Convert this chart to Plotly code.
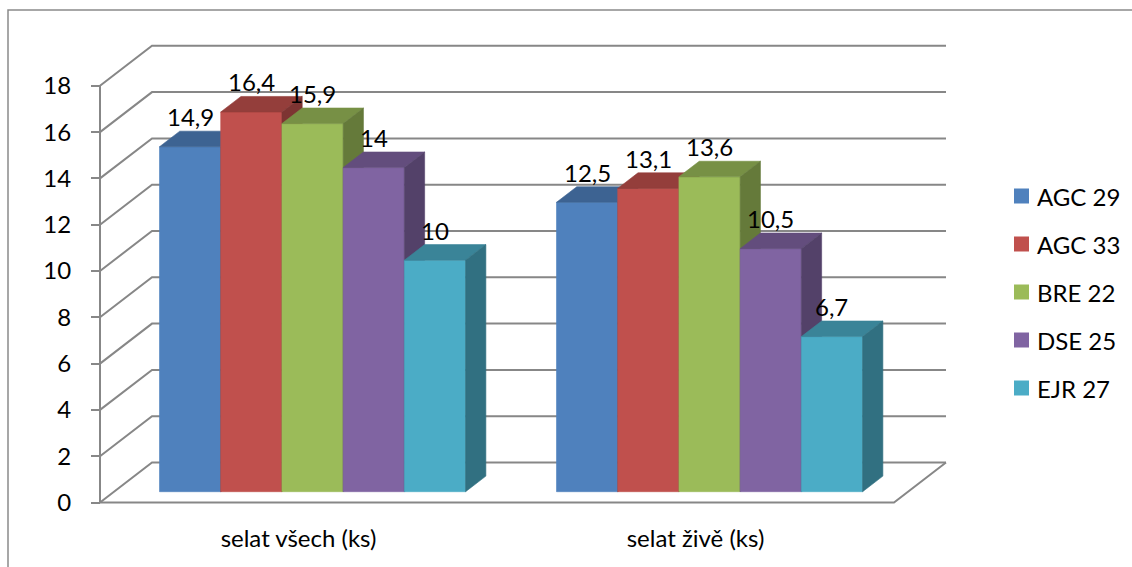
import plotly.graph_objects as go

# ---- data -------------------------------------------------------------
categories = ["selat všech (ks)", "selat živě (ks)"]
series_names = ["AGC 29", "AGC 33", "BRE 22", "DSE 25", "EJR 27"]
agc29 = [14.9, 12.5]
agc33 = [16.4, 13.1]
bre22 = [15.9, 13.6]
dse25 = [14.0, 10.5]
ejr27 = [10.0, 6.7]
y_ticks = [0, 2, 4, 6, 8, 10, 12, 14, 16, 18]

series_values = [agc29, agc33, bre22, dse25, ejr27]
front_colors = ["#4F81BD", "#C0504D", "#9BBB59", "#8064A2", "#4BACC6"]

# ---- layout / projection constants ------------------------------------
W, H = 1132, 567
M_L, M_R, M_T, M_B = 40, 160, 20, 40
PX_PER_CAT = 397.0      # horizontal pixels per category
PX_PER_UNIT = 23.15     # vertical pixels per value unit
AXIS_X_PX = 100.0       # front value axis position
FLOOR_Y_PX = 502.5      # front floor line position

PLOT_W = W - M_L - M_R
PLOT_H = H - M_T - M_B
x_lo = -0.5 - (AXIS_X_PX - M_L) / PX_PER_CAT
x_hi = x_lo + PLOT_W / PX_PER_CAT
y_lo = -(H - M_B - FLOOR_Y_PX) / PX_PER_UNIT
y_hi = y_lo + PLOT_H / PX_PER_UNIT

# oblique depth vector of the full wall depth, in data units
DEPTH_DX = 52.0 / PX_PER_CAT
DEPTH_DY = 40.0 / PX_PER_UNIT
BAR_D0, BAR_D1 = 0.27, 0.66   # bar front / back depth fractions
BAR_W = 0.1542                # bar width in category units
N_SER = len(series_names)

GRID = "#878787"
FONT = "Lato"
FS = 24


def proj(x, v, d):
    return x + d * DEPTH_DX, v + d * DEPTH_DY


def shade(hex_color, k):
    r, g, b = (int(hex_color[i:i + 2], 16) for i in (1, 3, 5))
    return "rgb({},{},{})".format(round(r * k), round(g * k), round(b * k))


def px_to_paper_x(px):
    return (px - M_L) / PLOT_W


def px_to_paper_y(py):
    return 1 - (py - M_T) / PLOT_H


fig = go.Figure()

# ---- walls: gridlines on side + back wall, floor, front axis -----------
gx, gy = [], []
x_left, x_right = -0.5, len(categories) - 0.5
for v in y_ticks:
    for (x, d) in [(x_left, 0), (x_left, 1), (x_right, 1)]:
        px, py = proj(x, v, d)
        gx.append(px)
        gy.append(py)
    gx.append(None)
    gy.append(None)
for (x, v, d) in [(x_left, 0, 0), (x_right, 0, 0), (x_right, 0, 1)]:
    px, py = proj(x, v, d)
    gx.append(px)
    gy.append(py)
gx.append(None)
gy.append(None)
gx += [x_left, x_left]
gy += [0, max(y_ticks)]
fig.add_trace(go.Scatter(x=gx, y=gy, mode="lines",
                         line=dict(color=GRID, width=2),
                         hoverinfo="skip", showlegend=False))

# ---- 3D bars ----------------------------------------------------------
annotations = []
for g in range(len(categories)):
    start = g - BAR_W * N_SER / 2
    for i in range(N_SER):
        v = series_values[i][g]
        col = front_colors[i]
        x0 = start + i * BAR_W
        x1 = x0 + BAR_W
        faces = [
            ([(x0, 0, BAR_D0), (x1, 0, BAR_D0), (x1, v, BAR_D0), (x0, v, BAR_D0)], col),
            ([(x0, v, BAR_D0), (x1, v, BAR_D0), (x1, v, BAR_D1), (x0, v, BAR_D1)], shade(col, 0.77)),
            ([(x1, 0, BAR_D0), (x1, 0, BAR_D1), (x1, v, BAR_D1), (x1, v, BAR_D0)], shade(col, 0.65)),
        ]
        for pts, fc in faces:
            xs, ys = zip(*[proj(*p) for p in pts])
            fig.add_trace(go.Scatter(
                x=list(xs) + [xs[0]], y=list(ys) + [ys[0]],
                mode="lines", fill="toself", fillcolor=fc,
                line=dict(color=fc, width=0.6),
                hoverinfo="skip", showlegend=False))
        lx, _ = proj((x0 + x1) / 2, v, BAR_D0)
        _, ly = proj(0, v, BAR_D1)
        annotations.append(dict(
            x=lx, y=ly, xref="x", yref="y", showarrow=False,
            text="{:g}".format(v).replace(".", ","),
            xanchor="center", yanchor="bottom", yshift=-2,
            font=dict(family=FONT, size=FS, color="black")))

# ---- legend -----------------------------------------------------------
shapes = []
LEG_SQ_X, LEG_TXT_X, LEG_Y0, LEG_STEP, LEG_SQ = 1014, 1035, 196, 48, 15
for i, name in enumerate(series_names):
    cy = LEG_Y0 + i * LEG_STEP
    shapes.append(dict(
        type="rect", xref="paper", yref="paper",
        x0=px_to_paper_x(LEG_SQ_X), x1=px_to_paper_x(LEG_SQ_X + LEG_SQ),
        y0=px_to_paper_y(cy + LEG_SQ / 2), y1=px_to_paper_y(cy - LEG_SQ / 2),
        fillcolor=front_colors[i], line=dict(width=0)))
    annotations.append(dict(
        x=px_to_paper_x(LEG_TXT_X), y=px_to_paper_y(cy),
        xref="paper", yref="paper", showarrow=False, text=name,
        xanchor="left", yanchor="middle",
        font=dict(family=FONT, size=FS, color="black")))

# chart area border
shapes.append(dict(
    type="rect", xref="paper", yref="paper", layer="below",
    x0=px_to_paper_x(8), x1=px_to_paper_x(W + 20),
    y0=px_to_paper_y(H + 20), y1=px_to_paper_y(10),
    line=dict(color="#8A8A8A", width=1.5), fillcolor="rgba(0,0,0,0)"))

axis_pos_y = (0 - y_lo) / (y_hi - y_lo)
axis_pos_x = (-0.5 - x_lo) / (x_hi - x_lo)

fig.update_layout(
    width=W, height=H,
    margin=dict(l=M_L, r=M_R, t=M_T, b=M_B),
    paper_bgcolor="white", plot_bgcolor="white",
    showlegend=False,
    font=dict(family=FONT, size=FS, color="black"),
    xaxis=dict(range=[x_lo, x_hi], showgrid=False, zeroline=False,
               showline=False, anchor="free", position=axis_pos_y,
               tickmode="array", tickvals=list(range(len(categories))),
               ticktext=categories, ticks="", ticklabelstandoff=19,
               tickfont=dict(family=FONT, size=FS, color="black")),
    xaxis2=dict(range=[x_lo, x_hi], overlaying="x", matches="x",
                anchor="free", position=axis_pos_y, side="bottom",
                showgrid=False, zeroline=False, showline=False,
                tickmode="array",
                tickvals=[k - 0.5 for k in range(len(categories) + 1)],
                ticks="outside", ticklen=8, tickwidth=2, tickcolor=GRID,
                showticklabels=False),
    yaxis=dict(range=[y_lo, y_hi], showgrid=False, zeroline=False,
               showline=False, anchor="free", position=axis_pos_x,
               tickmode="array", tickvals=y_ticks,
               ticks="outside", ticklen=9, tickwidth=2, tickcolor=GRID,
               ticklabelstandoff=15,
               tickfont=dict(family=FONT, size=FS, color="black")),
    shapes=shapes,
    annotations=annotations,
)

fig.write_html("out.html")
